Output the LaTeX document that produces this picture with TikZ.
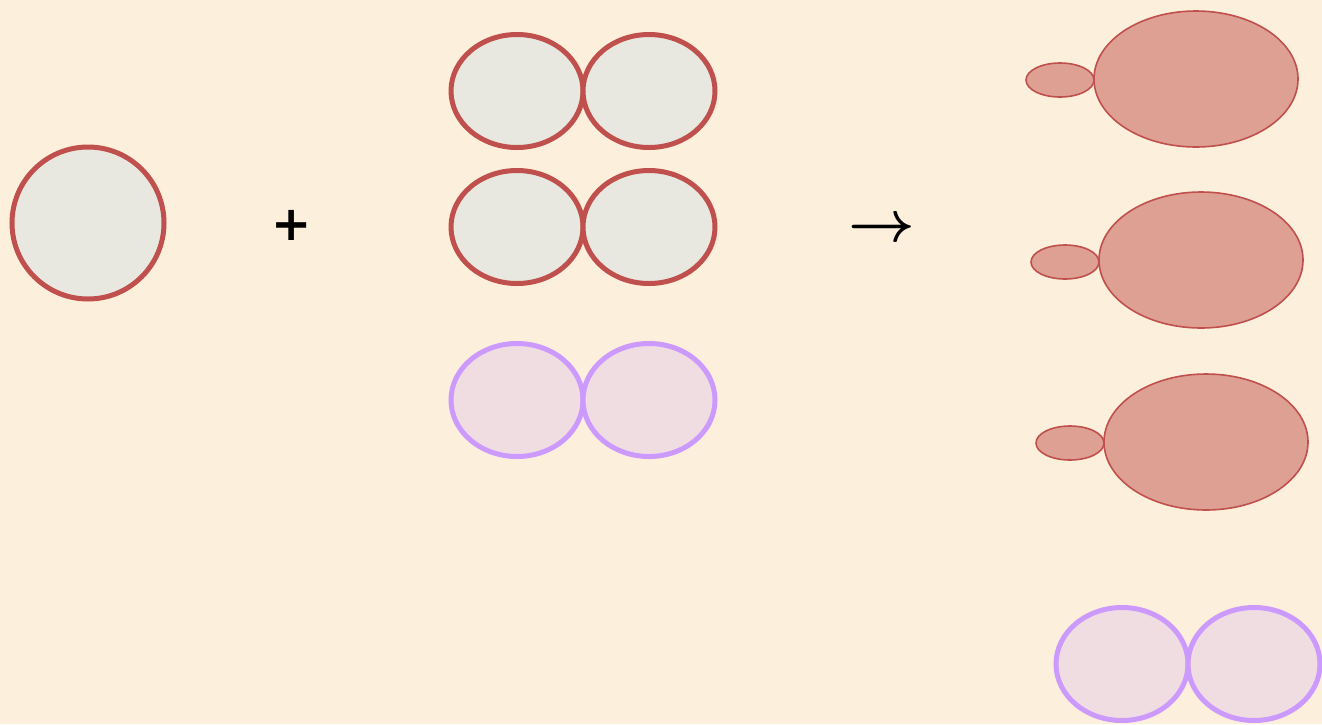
\documentclass[tikz,border=0pt]{standalone}
\usepackage{fontspec}
\usepackage{graphicx}
\usetikzlibrary{shapes.geometric}
\definecolor{bg}{HTML}{FCF0DC}
\definecolor{redline}{HTML}{C0504D}
\definecolor{greyfill}{HTML}{E9E8E0}
\definecolor{violetline}{HTML}{CC99FF}
\definecolor{pinkfill}{HTML}{F0DDE2}
\definecolor{salmon}{HTML}{DEA093}
\newfontfamily\plusfont{DejaVu Sans}
\tikzset{
  pair/.style={ellipse, draw=redline, line width=5pt, fill=greyfill, inner sep=0pt, minimum width=132pt, minimum height=113pt},
  vpair/.style={ellipse, draw=violetline, line width=5pt, fill=pinkfill, inner sep=0pt, minimum width=132pt, minimum height=113pt},
  bigblob/.style={ellipse, draw=redline, line width=1.6pt, fill=salmon, inner sep=0pt, minimum width=204pt, minimum height=136pt},
  smallblob/.style={ellipse, draw=redline, line width=1.6pt, fill=salmon, inner sep=0pt, minimum width=68pt, minimum height=34pt}
}
\begin{document}
\begin{tikzpicture}[x=1pt,y=-1pt]
\fill[bg] (0,0) rectangle (1322,724);
\useasboundingbox (0,0) rectangle (1322,724);
% single atom
\node[circle, draw=redline, line width=5pt, fill=greyfill, inner sep=0pt, minimum size=152pt] (atom) at (88,223) {};
% plus
\node[inner sep=0pt] (plus) at (292,225) {\plusfont\bfseries\fontsize{48}{48}\selectfont +};
% molecules
\node[pair] (m1a) at (517,91) {};
\node[pair] (m1b) at (649,91) {};
\node[pair] (m2a) at (517,227) {};
\node[pair] (m2b) at (649,227) {};
\node[vpair] (m3a) at (517,400) {};
\node[vpair] (m3b) at (649,400) {};
% arrow
\node[inner sep=0pt] (arrow) at (882,230) {\scalebox{5.8}{\boldmath$\rightarrow$}};
% products
\node[bigblob] (p1big) at (1196,79) {};
\node[smallblob] (p1small) at (1060,80) {};
\node[bigblob] (p2big) at (1201,260) {};
\node[smallblob] (p2small) at (1065,262) {};
\node[bigblob] (p3big) at (1206,442) {};
\node[smallblob] (p3small) at (1070,443) {};
\node[vpair] (q1) at (1122,664) {};
\node[vpair] (q2) at (1254,664) {};
\end{tikzpicture}
\end{document}
